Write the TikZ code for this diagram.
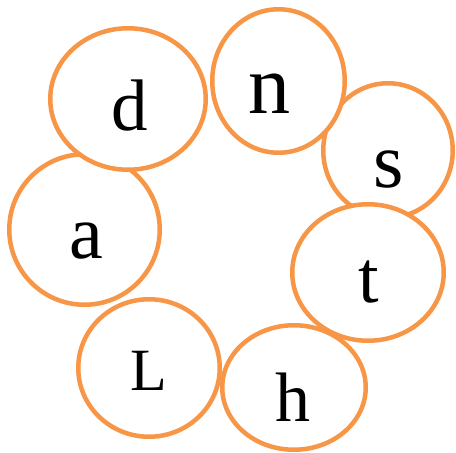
\documentclass[tikz,border=0pt]{standalone}
\usepackage{fontspec}
\setmainfont{Liberation Serif}
\usetikzlibrary{shapes.geometric}
\definecolor{ring}{HTML}{F79646}
\tikzset{
  ring/.style={ellipse, draw=ring, line width=4.5pt, fill=white, inner sep=0pt, outer sep=0pt},
  letter/.style={anchor=base, inner sep=0pt, font=\fontsize{#1}{#1}\selectfont},
}
\begin{document}
\begin{tikzpicture}[x=1pt,y=-1pt]
\useasboundingbox (0,0) rectangle (456,453);
\node[ring, minimum width=150.5pt, minimum height=150.5pt] (ra) at (84.5,229.5) {};
\node[ring, minimum width=155.5pt, minimum height=141.5pt] (rd) at (128,99) {};
\node[ring, minimum width=129.5pt, minimum height=134.5pt] (rs) at (388,150.5) {};
\node[ring, minimum width=132.5pt, minimum height=143.5pt] (rn) at (278.5,81) {};
\node[ring, minimum width=143.5pt, minimum height=124.5pt] (rh) at (294,387.5) {};
\node[ring, minimum width=151.5pt, minimum height=136.5pt] (rt) at (368,272.5) {};
\node[ring, minimum width=141.5pt, minimum height=137.5pt] (rL) at (149,368) {};
\node[letter=73] (ld) at (129.5,130) {d};
\node[letter=84] (ln) at (269,113) {n};
\node[letter=78] (ls) at (389,187) {s};
\node[letter=76] (la) at (86,258) {a};
\node[letter=60] (lL) at (148.5,390) {L};
\node[letter=74] (lt) at (369,302) {t};
\node[letter=70] (lh) at (293,421) {h};
\end{tikzpicture}
\end{document}
